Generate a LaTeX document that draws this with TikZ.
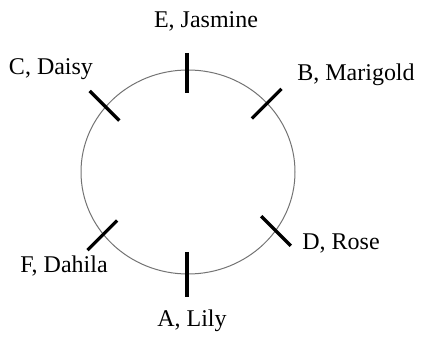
\documentclass[tikz,border=0pt]{standalone}
\usepackage{fontspec}
\setmainfont{Liberation Serif}
\usetikzlibrary{calc}

\tikzset{
  flower/.style={anchor=base, inner sep=0pt, font=\fontsize{24}{28}\selectfont},
  seat/.style={line width=3.3pt, black}
}

\begin{document}
\begin{tikzpicture}[line cap=butt,line join=round,x=1pt,y=1pt]
		\useasboundingbox (0,0) rectangle (424,337);

		% Tisch
		\coordinate (c) at (188,165);
		\draw[color=black!55, line width=1pt] (c) ellipse (107 and 102);

		% Plaetze
		\coordinate (e) at (187,266);
		\coordinate (a) at (187,63);
		\coordinate (b) at (266.7,233.3);
		\coordinate (cc) at (104.5,231.2);
		\coordinate (d) at (276,106);
		\coordinate (f) at (102.3,101.7);
		\draw[seat] ($(e)+(90:18)$) -- ($(e)-(90:22)$);
		\draw[seat] ($(a)+(90:22)$) -- ($(a)-(90:23)$);
		\draw[seat] ($(b)+(45:21)$) -- ($(b)-(45:21)$);
		\draw[seat] ($(cc)+(135:21)$) -- ($(cc)-(135:21)$);
		\draw[seat] ($(d)+(-45:21)$) -- ($(d)-(-45:21)$);
		\draw[seat] ($(f)+(-135:21)$) -- ($(f)-(-135:21)$);

		% Namen
		\node[flower] (jasmine) at (206,309) {E, Jasmine};
		\node[flower] (daisy) at (51,262) {C, Daisy};
		\node[flower] (marigold) at (356,256) {B, Marigold};
		\node[flower] (rose) at (341,87) {D, Rose};
		\node[flower] (dahila) at (64,64) {F, Dahila};
		\node[flower] (lily) at (192,10.5) {A, Lily};
	\end{tikzpicture}
\end{document}
